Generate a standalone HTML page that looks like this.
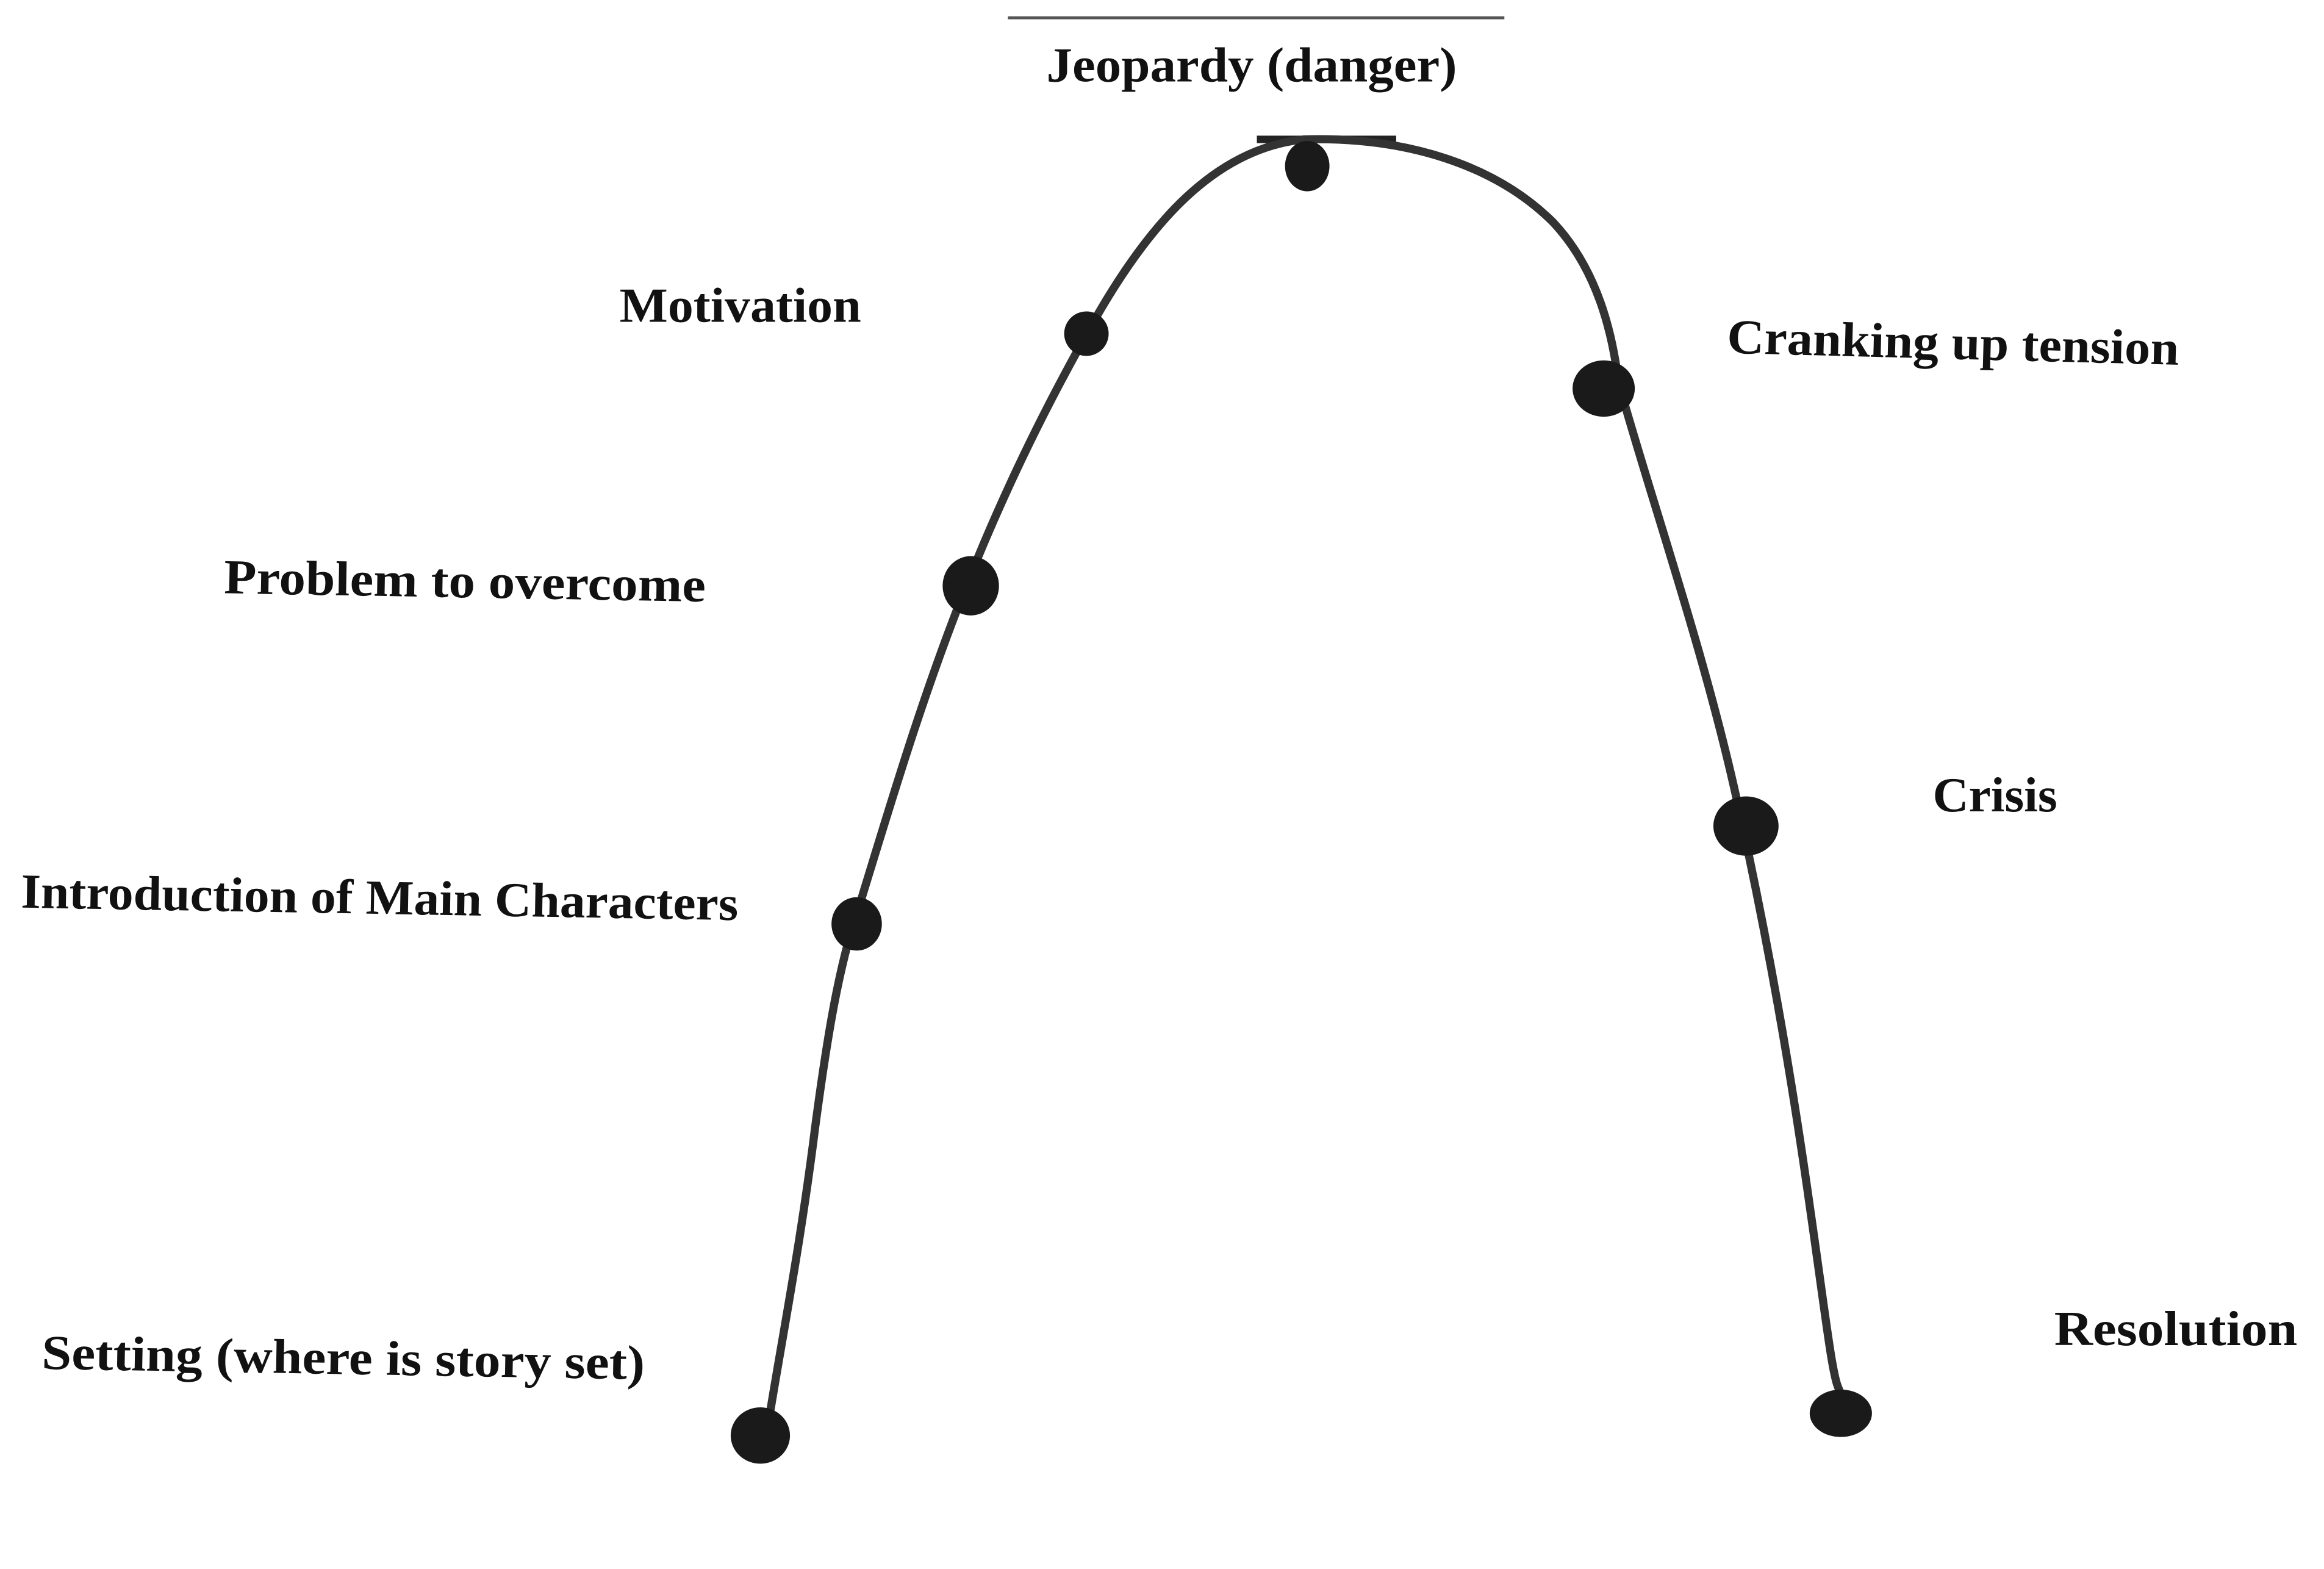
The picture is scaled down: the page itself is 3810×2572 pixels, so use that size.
<!DOCTYPE html>
<html><head><meta charset="utf-8"><style>
html,body{margin:0;padding:0;background:#fff;}
svg{display:block;}
text{font-family:"Liberation Serif",serif;font-weight:bold;font-size:33px;fill:#111;}
</style></head><body>
<svg width="3810" height="2572" viewBox="0 0 1568 1058" preserveAspectRatio="none" xmlns="http://www.w3.org/2000/svg">
<rect width="1568" height="1058" fill="#fff"/>
<line x1="680" y1="12" x2="1015" y2="12" stroke="#555" stroke-width="2"/>
<line x1="848" y1="94" x2="942" y2="94" stroke="#222" stroke-width="5"/>
<path d="M518,962 C528,900 540,840 550,760 C558,700 566,650 580,610 C600,545 622,470 652,395 C680,325 708,270 735,222 C775,150 820,100 880,94 C950,92 1010,112 1048,150 C1078,182 1088,225 1092,258 C1115,340 1150,440 1172,540 C1192,630 1208,720 1222,820 C1232,890 1236,925 1240,935 C1244,945 1246,948 1248,950" fill="none" stroke="#333" stroke-width="5.5" stroke-linecap="round"/>
<g fill="#1a1a1a">
<ellipse cx="513" cy="968" rx="20" ry="19"/>
<ellipse cx="578" cy="623" rx="17" ry="18"/>
<ellipse cx="655" cy="395" rx="19" ry="20"/>
<ellipse cx="733" cy="225" rx="15" ry="15"/>
<ellipse cx="882" cy="112" rx="15" ry="17"/>
<ellipse cx="1082" cy="262" rx="21" ry="19"/>
<ellipse cx="1178" cy="557" rx="22" ry="20"/>
<ellipse cx="1242" cy="953" rx="21" ry="16"/>
</g>
<text x="706" y="55" textLength="277" lengthAdjust="spacingAndGlyphs">Jeopardy (danger)</text>
<text x="418" y="217" textLength="163" lengthAdjust="spacingAndGlyphs">Motivation</text>
<text x="1165" y="238" textLength="305" lengthAdjust="spacingAndGlyphs" transform="rotate(1.5 1165 238)">Cranking up tension</text>
<text x="151" y="400" textLength="325" lengthAdjust="spacingAndGlyphs" transform="rotate(1 151 400)">Problem to overcome</text>
<text x="1304" y="547" textLength="84" lengthAdjust="spacingAndGlyphs">Crisis</text>
<text x="14" y="612" textLength="484" lengthAdjust="spacingAndGlyphs" transform="rotate(1 14 612)">Introduction of Main Characters</text>
<text x="28" y="923" textLength="407" lengthAdjust="spacingAndGlyphs" transform="rotate(1 28 923)">Setting (where is story set)</text>
<text x="1386" y="907" textLength="164" lengthAdjust="spacingAndGlyphs">Resolution</text>
</svg>
</body></html>
